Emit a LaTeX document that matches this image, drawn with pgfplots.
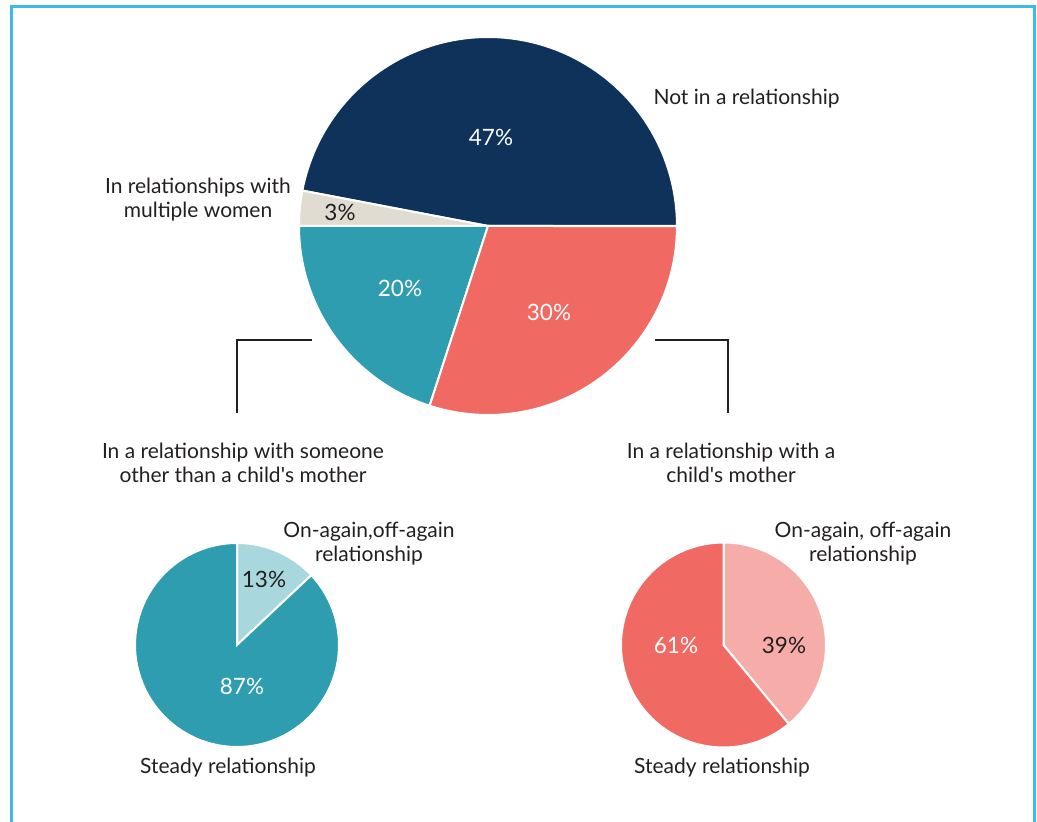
\documentclass[border=0pt]{standalone}
\usepackage{pgfplots}
\pgfplotsset{compat=1.18}
\usepackage{fontspec}
\setmainfont{Lato}

\definecolor{navy}{HTML}{0E3259}
\definecolor{beige}{HTML}{E0DCD1}
\definecolor{teal}{HTML}{2E9DAF}
\definecolor{coral}{HTML}{F06A63}
\definecolor{ltblue}{HTML}{A9D7DE}
\definecolor{ltpink}{HTML}{F6ACA9}
\definecolor{frame}{HTML}{3DBAE8}
\definecolor{txt}{HTML}{231F20}

% one slice: start percent, size percent, colour (angles counter-clockwise)
\newcommand{\slice}[3]{%
  \addplot[draw=white, line width=2pt, fill=#3, domain={#1*3.6}:{(#1+#2)*3.6}, samples=90]
    ({cos(x)},{sin(x)}) -- (axis cs:0,0) -- cycle;}

\pgfplotsset{pie/.style={hide axis, scale only axis, clip=false,
  xmin=-1, xmax=1, ymin=-1, ymax=1, anchor=origin}}

\newcommand{\lbl}{\fontsize{21}{24}\selectfont}
\newcommand{\pct}{\fontsize{22.5}{24}\selectfont}
\newcommand{\ap}{\textquotesingle}

\begin{document}
\begin{tikzpicture}[x=1pt, y=1pt]
\useasboundingbox (0,0) rectangle (1037,822);
\draw[frame, line width=3pt] (11.5,-5) -- (11.5,815.5) -- (1034,815.5) -- (1034,-5);

% main pie: 47, 3, 20, 30
\begin{axis}[pie, width=378pt, height=378pt, at={(488pt,596pt)}]
  \slice{0}{47}{navy}
  \slice{47}{3}{beige}
  \slice{50}{20}{teal}
  \slice{70}{30}{coral}
\end{axis}

% someone other than a child's mother: 13 on-again, 87 steady
\begin{axis}[pie, width=204pt, height=204pt, at={(237pt,177pt)}]
  \slice{12}{13}{ltblue}
  \slice{25}{87}{teal}
\end{axis}

% child's mother: 39 on-again, 61 steady
\begin{axis}[pie, width=205pt, height=205pt, at={(723.5pt,177pt)}]
  \slice{-14}{39}{ltpink}
  \slice{25}{61}{coral}
\end{axis}

% connectors
\draw[txt, line width=2.5pt] (312,482) -- (237,482) -- (237,409);
\draw[txt, line width=2.5pt] (655,482) -- (728,482) -- (728,409);

% percentages
\begin{scope}[every node/.style={font=\pct}]
\node[white] at (491,685) {47\%};
\node[txt] at (340,610) {3\%};
\node[white] at (400,534) {20\%};
\node[white] at (549,510) {30\%};
\node[txt] at (264,243) {13\%};
\node[white] at (242,136) {87\%};
\node[white] at (676,177) {61\%};
\node[txt] at (784,177) {39\%};
\end{scope}

% category labels
\begin{scope}[every node/.style={font=\lbl, text=txt, align=center}]
\node[anchor=west] at (650,723) {Not in a relationship};
\node at (198,622) {In relationships with\\multiple women};
\node at (243,359) {In a relationship with someone\\other than a child\ap s mother};
\node at (731,359) {In a relationship with a\\child\ap s mother};
\node at (369,278) {On-again,off-again\\relationship};
\node at (228,54) {Steady relationship};
\node at (863,278) {On-again, off-again\\relationship};
\node at (722,54) {Steady relationship};
\end{scope}
\end{tikzpicture}
\end{document}
